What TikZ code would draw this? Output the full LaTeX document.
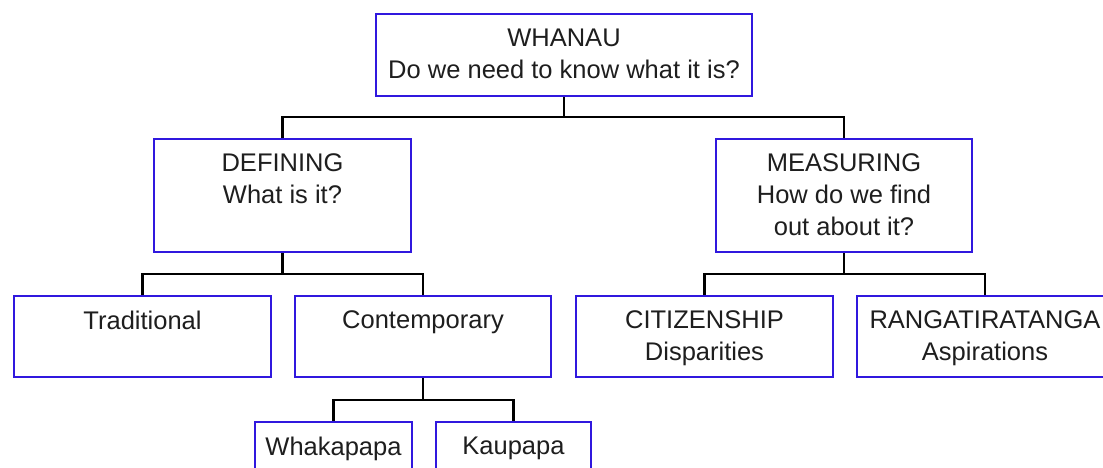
\documentclass[tikz,border=0pt]{standalone}
\usepackage{fontspec}
\setmainfont{Liberation Sans}
\definecolor{boxblue}{RGB}{48,24,222}
\definecolor{txt}{RGB}{30,30,30}
\begin{document}
\begin{tikzpicture}[x=0.5pt,y=-0.5pt,
  box/.style={draw=boxblue, line width=1.35pt, fill=white, inner sep=0pt},
  lbl/.style={anchor=north, inner sep=0pt, align=center, text=txt,
    font=\fontsize{12.75pt}{16pt}\selectfont, yshift=-7.9pt},
  conn/.style={draw=black, line width=1.35pt}]
\useasboundingbox (0,0) rectangle (1103,467);
\clip (0,0) rectangle (1103,467);
% boxes
\node[box, minimum width=188pt, minimum height=41pt] (top) at (564,55) {};
\node[box, minimum width=128.5pt, minimum height=56.5pt] (def) at (282.5,195.5) {};
\node[box, minimum width=128pt, minimum height=56.5pt] (meas) at (844,195.5) {};
\node[box, minimum width=128.5pt, minimum height=40.5pt] (trad) at (142.5,336.5) {};
\node[box, minimum width=128pt, minimum height=40.5pt] (cont) at (423,336.5) {};
\node[box, minimum width=128.5pt, minimum height=40.5pt] (cit) at (704.5,336.5) {};
\node[box, minimum width=128pt, minimum height=40.5pt] (rang) at (985,336.5) {};
\node[box, minimum width=78.5pt, minimum height=40.5pt] (wha) at (333.5,462.5) {};
\node[box, minimum width=77.5pt, minimum height=40.5pt] (kau) at (513.5,462.5) {};
% labels
\node[lbl] (topL) at (top.north) {WHANAU\\Do we need to know what it is?};
\node[lbl] (defL) at (def.north) {DEFINING\\What is it?};
\node[lbl] (measL) at (meas.north) {MEASURING\\How do we find\\out about it?};
\node[lbl] (tradL) at (trad.north) {Traditional};
\node[lbl] (contL) at (cont.north) {Contemporary};
\node[lbl] (citL) at (cit.north) {CITIZENSHIP\\Disparities};
\node[lbl] (rangL) at (rang.north) {RANGATIRATANGA\\Aspirations};
\node[lbl] (whaL) at (wha.north) {Whakapapa};
\node[lbl] (kauL) at (kau.north) {Kaupapa};
% connectors
\coordinate (b1) at (564,117);
\coordinate (b2) at (282.5,274);
\coordinate (b3) at (844,274);
\coordinate (b4) at (423,400);
\draw[conn] (top.south) -- (b1) -| (def.north);
\draw[conn] (b1) -| (meas.north);
\draw[conn] (def.south) -- (b2) -| (trad.north);
\draw[conn] (b2) -| (cont.north);
\draw[conn] (meas.south) -- (b3) -| (cit.north);
\draw[conn] (b3) -| (rang.north);
\draw[conn] (cont.south) -- (b4) -| (wha.north);
\draw[conn] (b4) -| (kau.north);
\end{tikzpicture}
\end{document}
